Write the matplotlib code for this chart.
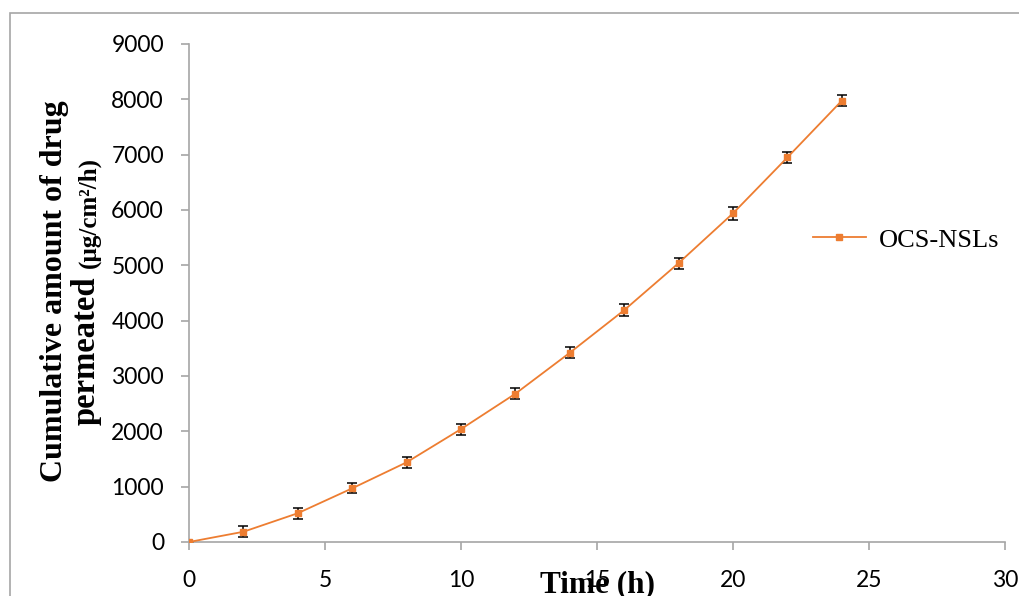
import matplotlib.pyplot as plt
from matplotlib.patches import Rectangle

time_h = [0, 2, 4, 6, 8, 10, 12, 14, 16, 18, 20, 22, 24]
permeated = [0, 185, 520, 970, 1440, 2040, 2680, 3420, 4190, 5040, 5940, 6950, 7975]
err = [0, 100, 100, 90, 105, 100, 95, 100, 110, 100, 115, 105, 100]
series_name = "OCS-NSLs"

orange = "#ED7D31"
grey = "#A6A6A6"
W, H = 1019, 596

fig = plt.figure(figsize=(W / 100, H / 100), dpi=100)
fig.patches.append(Rectangle((10 / W, -0.1), 1.2, 1.1 - 13 / H, transform=fig.transFigure,
                             fill=False, edgecolor=grey, linewidth=1.2))
ax = fig.add_axes([189 / W, 1 - 542 / H, (1005 - 189) / W, (542 - 44) / H])

ax.errorbar(time_h, permeated, yerr=err, fmt="none", ecolor="black", elinewidth=1.1,
            capsize=3.7, capthick=1.1, zorder=2)
ax.plot(time_h, permeated, color=orange, linewidth=1.3, marker="s", markersize=5,
        markerfacecolor=orange, markeredgecolor=orange, label=series_name, zorder=3)

ax.set_xlim(0, 30)
ax.set_ylim(0, 9000)
ax.set_xticks(range(0, 31, 5))
ax.set_yticks(range(0, 9001, 1000))
for s in ["top", "right"]:
    ax.spines[s].set_visible(False)
for s in ["left", "bottom"]:
    ax.spines[s].set_color(grey)
    ax.spines[s].set_linewidth(1.2)
ax.tick_params(direction="out", length=6, width=1.2, color=grey, labelsize=16.5, pad=12)
for lab in ax.get_xticklabels() + ax.get_yticklabels():
    lab.set_fontfamily("Lato")
ax.tick_params(axis="x", pad=14)

ax.legend(loc="center left", bbox_to_anchor=(813 / W, 1 - 240 / H), bbox_transform=fig.transFigure,
          frameon=False, prop={"family": "Liberation Serif", "size": 19}, handlelength=2.0,
          handletextpad=0.5, borderaxespad=0, borderpad=0)

serif = "Liberation Serif"
fig.text(597 / W, 1 - 592 / H, "Time (h)", ha="center", va="baseline", fontsize=22.5,
         fontweight="bold", family=serif)
fig.text(62 / W, 1 - 291.5 / H, "Cumulative amount of drug", rotation=90, rotation_mode="anchor",
         ha="center", va="baseline", fontsize=23, fontweight="bold", family=serif)
fig.text(95 / W, 1 - 425 / H, "permeated", rotation=90, rotation_mode="anchor",
         ha="left", va="baseline", fontsize=23.5, fontweight="bold", family=serif)
fig.text(95 / W, 1 - 157 / H, "(\u00b5g/cm\u00b2/h)", rotation=90, rotation_mode="anchor",
         ha="right", va="baseline", fontsize=18, fontweight="bold", family=serif)

fig.savefig("out.png", dpi=100)
